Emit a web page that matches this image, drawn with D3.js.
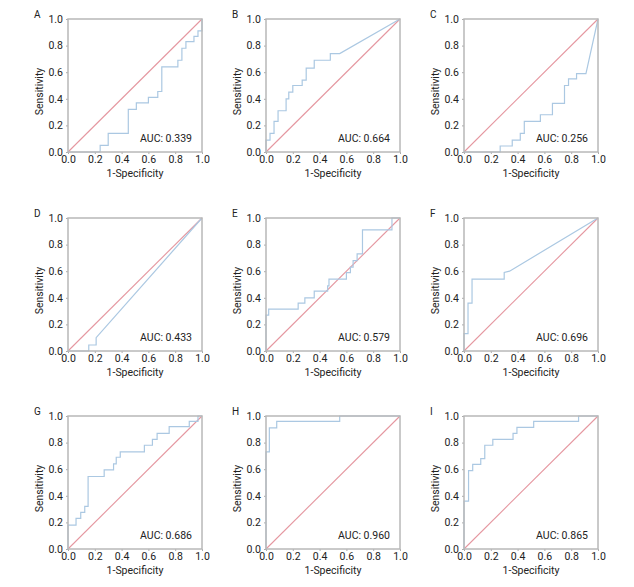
<!DOCTYPE html>
<html>
<head>
<meta charset="utf-8">
<script src="https://cdn.jsdelivr.net/npm/d3@7"></script>
<style>
  body { margin: 0; background: #fff; }
  svg text { font-family: Roboto, "Noto Sans", sans-serif; fill: #222; }
</style>
</head>
<body>
<div id="chart"></div>
<script>
// panel letters and AUC labels
const panelNames = ["A", "B", "C", "D", "E", "F", "G", "H", "I"];
const aucValues = ["0.339", "0.664", "0.256", "0.433", "0.579", "0.696", "0.686", "0.960", "0.865"];
const tickValues = [0, 0.2, 0.4, 0.6, 0.8, 1.0];

// ROC points [1-specificity, sensitivity]
const rocA = [[0,0],[0.24,0],[0.24,0.05],[0.30,0.05],[0.30,0.14],[0.45,0.14],[0.45,0.32],[0.51,0.32],[0.51,0.37],
  [0.60,0.37],[0.60,0.41],[0.67,0.41],[0.67,0.455],[0.70,0.455],[0.70,0.64],[0.82,0.64],[0.82,0.69],[0.85,0.69],
  [0.85,0.78],[0.88,0.78],[0.88,0.83],[0.94,0.83],[0.94,0.87],[0.97,0.87],[0.97,0.91],[1,0.91],[1,1]];
const rocB = [[0,0],[0,0.09],[0.03,0.09],[0.03,0.14],[0.06,0.14],[0.06,0.23],[0.09,0.23],[0.09,0.31],[0.15,0.31],
  [0.15,0.40],[0.17,0.40],[0.17,0.45],[0.20,0.45],[0.20,0.50],[0.27,0.50],[0.27,0.54],[0.30,0.54],[0.30,0.63],
  [0.36,0.63],[0.36,0.69],[0.48,0.69],[0.48,0.74],[0.55,0.74],[1,1]];
const rocC = [[0,0],[0.27,0],[0.27,0.045],[0.36,0.045],[0.36,0.09],[0.42,0.09],[0.42,0.14],[0.45,0.14],[0.45,0.23],
  [0.57,0.23],[0.57,0.28],[0.66,0.28],[0.66,0.365],[0.75,0.365],[0.75,0.50],[0.78,0.50],[0.78,0.55],[0.84,0.55],
  [0.84,0.59],[0.91,0.59],[1,1]];
const rocD = [[0,0],[0.155,0],[0.155,0.045],[0.21,0.045],[0.21,0.10],[1,1]];
const rocE = [[0,0],[0,0.27],[0.02,0.27],[0.02,0.315],[0.24,0.315],[0.24,0.36],[0.29,0.36],[0.29,0.40],[0.36,0.40],
  [0.36,0.45],[0.46,0.45],[0.46,0.49],[0.47,0.49],[0.47,0.54],[0.60,0.54],[0.60,0.59],[0.63,0.59],[0.63,0.63],
  [0.65,0.63],[0.65,0.68],[0.68,0.68],[0.68,0.73],[0.72,0.73],[0.72,0.91],[0.94,0.91],[0.94,1],[1,1]];
const rocF = [[0,0],[0,0.13],[0.03,0.13],[0.03,0.36],[0.06,0.36],[0.06,0.54],[0.30,0.54],[0.30,0.59],[0.34,0.60],[1,1]];
const rocG = [[0,0],[0,0.18],[0.06,0.18],[0.06,0.23],[0.095,0.23],[0.095,0.275],[0.125,0.275],[0.125,0.32],
  [0.15,0.32],[0.15,0.545],[0.27,0.545],[0.27,0.595],[0.34,0.595],[0.34,0.64],[0.36,0.64],[0.36,0.69],[0.39,0.69],
  [0.39,0.73],[0.57,0.73],[0.57,0.78],[0.63,0.78],[0.63,0.825],[0.665,0.825],[0.665,0.87],[0.755,0.87],[0.755,0.92],
  [0.905,0.92],[0.905,0.96],[0.97,0.96],[0.97,1],[1,1]];
const rocH = [[0,0],[0,0.73],[0.025,0.73],[0.025,0.91],[0.08,0.91],[0.08,0.96],[0.55,0.96],[0.55,1],[1,1]];
const rocI = [[0,0],[0,0.36],[0.034,0.36],[0.034,0.59],[0.065,0.59],[0.065,0.636],[0.125,0.636],[0.125,0.68],
  [0.155,0.68],[0.155,0.78],[0.215,0.78],[0.215,0.825],[0.366,0.825],[0.366,0.87],[0.395,0.87],[0.395,0.915],
  [0.52,0.915],[0.52,0.96],[0.855,0.96],[0.855,1],[1,1]];
const rocCurves = [rocA, rocB, rocC, rocD, rocE, rocF, rocG, rocH, rocI];

const width = 634, height = 587;
const colLeft = [68, 266, 464];
const rowTop = [19, 218, 416];
const plotW = 134, plotH = 133;

const svg = d3.select("#chart").append("svg")
  .attr("width", width)
  .attr("height", height);

const x = d3.scaleLinear().domain([0, 1]).range([0, plotW]);
const y = d3.scaleLinear().domain([0, 1]).range([plotH, 0]);

const line = d3.line()
  .x(d => x(d[0]))
  .y(d => y(d[1]));

panelNames.forEach((name, i) => {
  const left = colLeft[i % 3], top = rowTop[Math.floor(i / 3)];
  const g = svg.append("g").attr("transform", `translate(${left},${top})`);

  // axes, small grey ticks, no domain line (the frame does that)
  const xAxis = d3.axisBottom(x).tickValues(tickValues).tickFormat(d3.format(".1f")).tickSize(2).tickPadding(2);
  const yAxis = d3.axisLeft(y).tickValues(tickValues).tickFormat(d3.format(".1f")).tickSize(2).tickPadding(3);

  const xg = g.append("g").attr("transform", `translate(0,${plotH})`).call(xAxis);
  const yg = g.append("g").call(yAxis);
  [xg, yg].forEach(a => {
    a.select(".domain").remove();
    a.selectAll(".tick line").attr("stroke", "#aaa");
    a.selectAll(".tick text").style("font-size", "10.5px").attr("fill", "#222");
  });

  // reference diagonal
  g.append("path")
    .datum([[0, 0], [1, 1]])
    .attr("d", line)
    .attr("fill", "none")
    .attr("stroke", "#e597a0")
    .attr("stroke-width", 1.1);

  // ROC curve
  g.append("path")
    .datum(rocCurves[i])
    .attr("d", line)
    .attr("fill", "none")
    .attr("stroke", "#abc8e2")
    .attr("stroke-width", 1.2);

  // frame
  g.append("rect")
    .attr("width", plotW)
    .attr("height", plotH)
    .attr("fill", "none")
    .attr("stroke", "#b8b8b8")
    .attr("stroke-width", 1.5);

  g.append("text")
    .attr("x", -34).attr("y", -1)
    .style("font-size", "10px")
    .text(name);

  g.append("text")
    .attr("x", plotW - 10).attr("y", plotH - 10)
    .attr("text-anchor", "end")
    .style("font-size", "10.5px")
    .text("AUC: " + aucValues[i]);

  g.append("text")
    .attr("x", plotW / 2).attr("y", plotH + 25)
    .attr("text-anchor", "middle")
    .style("font-size", "10.5px")
    .text("1-Specificity");

  g.append("text")
    .attr("transform", `translate(-25,${plotH / 2 + 6}) rotate(-90)`)
    .attr("text-anchor", "middle")
    .style("font-size", "10.5px")
    .text("Sensitivity");
});
</script>
</body>
</html>
